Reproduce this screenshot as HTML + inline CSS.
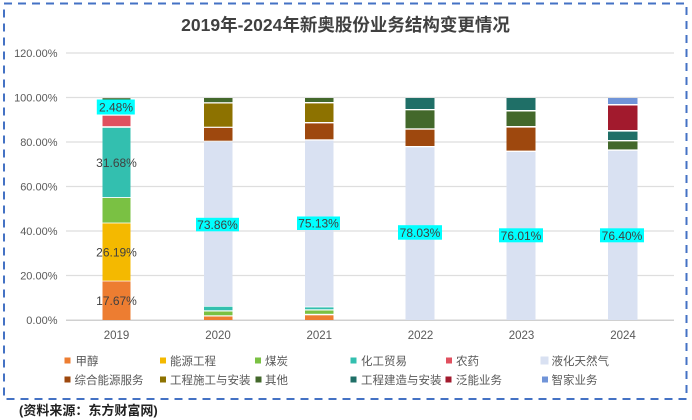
<!DOCTYPE html>
<html>
<head>
<meta charset="utf-8">
<style>
html,body{margin:0;padding:0;background:#fff;}
svg{display:block;}
text{font-family:"Liberation Sans","Noto Sans CJK SC",sans-serif;}
</style>
</head>
<body>
<svg width="692" height="420" viewBox="0 0 692 420" xmlns="http://www.w3.org/2000/svg">
<rect x="0" y="0" width="692" height="420" fill="#fff"/>
<!-- dashed border -->
<rect x="4" y="3.5" width="682.5" height="395.5" fill="none" stroke="#4472C4" stroke-width="2" stroke-dasharray="8,6"/>

<!-- title -->
<text x="345.5" y="31" text-anchor="middle" font-size="17.5" font-weight="bold" fill="#404040">2019年-2024年新奥股份业务结构变更情况</text>

<!-- gridlines -->
<g stroke="#DEDEDE" stroke-width="1.3">
<line x1="66" y1="53" x2="674" y2="53"/>
<line x1="66" y1="97.5" x2="674" y2="97.5"/>
<line x1="66" y1="142" x2="674" y2="142"/>
<line x1="66" y1="186.5" x2="674" y2="186.5"/>
<line x1="66" y1="231" x2="674" y2="231"/>
<line x1="66" y1="275.5" x2="674" y2="275.5"/>
</g>
<line x1="66" y1="320.3" x2="674" y2="320.3" stroke="#D0D0D0" stroke-width="1.5"/>

<!-- y labels -->
<g font-size="11" fill="#595959" text-anchor="end">
<text x="57.5" y="57">120.00%</text>
<text x="57.5" y="101.5">100.00%</text>
<text x="57.5" y="146">80.00%</text>
<text x="57.5" y="190.5">60.00%</text>
<text x="57.5" y="235">40.00%</text>
<text x="57.5" y="279.5">20.00%</text>
<text x="57.5" y="324">0.00%</text>
</g>

<!-- bars -->
<g stroke="none">
<!-- 2019 -->
<rect x="102.5" y="98.2" width="28" height="1.6" fill="#43682B"/>
<rect x="102.5" y="100" width="28" height="14.5" fill="#D9E1F2"/>
<rect x="102.5" y="115.7" width="28" height="10.5" fill="#E0505F"/>
<rect x="102.5" y="127.8" width="28" height="69.3" fill="#33BFAF"/>
<rect x="102.5" y="198" width="28" height="24.6" fill="#7AC143"/>
<rect x="102.5" y="223.4" width="28" height="57.3" fill="#F4B900"/>
<rect x="102.5" y="281.4" width="28" height="38.6" fill="#ED7D31"/>
<!-- 2020 -->
<rect x="204" y="98" width="28.5" height="4.2" fill="#43682B"/>
<rect x="204" y="103.5" width="28.5" height="23.2" fill="#8D7200"/>
<rect x="204" y="127.9" width="28.5" height="12.8" fill="#9E480E"/>
<rect x="204" y="142" width="28.5" height="164" fill="#D9E1F2"/>
<rect x="204" y="306.7" width="28.5" height="3.6" fill="#33BFAF"/>
<rect x="204" y="311.5" width="28.5" height="3.8" fill="#7AC143"/>
<rect x="204" y="316.5" width="28.5" height="3.5" fill="#ED7D31"/>
<!-- 2021 -->
<rect x="305" y="98" width="28.5" height="4" fill="#43682B"/>
<rect x="305" y="103.4" width="28.5" height="18.6" fill="#8D7200"/>
<rect x="305" y="123.4" width="28.5" height="15.9" fill="#9E480E"/>
<rect x="305" y="140.6" width="28.5" height="166" fill="#D9E1F2"/>
<rect x="305" y="307.4" width="28.5" height="1.9" fill="#33BFAF"/>
<rect x="305" y="310.5" width="28.5" height="3.3" fill="#7AC143"/>
<rect x="305" y="315.3" width="28.5" height="4.7" fill="#ED7D31"/>
<!-- 2022 -->
<rect x="405.5" y="98" width="29" height="11" fill="#1F6F67"/>
<rect x="405.5" y="110.3" width="29" height="18" fill="#43682B"/>
<rect x="405.5" y="129.7" width="29" height="16.3" fill="#9E480E"/>
<rect x="405.5" y="147.3" width="29" height="172.7" fill="#D9E1F2"/>
<!-- 2023 -->
<rect x="506.5" y="98" width="29" height="12" fill="#1F6F67"/>
<rect x="506.5" y="111.5" width="29" height="14.5" fill="#43682B"/>
<rect x="506.5" y="127.6" width="29" height="23" fill="#9E480E"/>
<rect x="506.5" y="152" width="29" height="168" fill="#D9E1F2"/>
<!-- 2024 -->
<rect x="608" y="98" width="29.5" height="6" fill="#7094D8"/>
<rect x="608" y="105.5" width="29.5" height="24.5" fill="#A21A2D"/>
<rect x="608" y="131.6" width="29.5" height="8.4" fill="#1F6F67"/>
<rect x="608" y="141.4" width="29.5" height="8" fill="#43682B"/>
<rect x="608" y="150.8" width="29.5" height="169.2" fill="#D9E1F2"/>
</g>

<!-- data labels -->
<g font-size="12" fill="#404040" text-anchor="middle">
<rect x="96.8" y="99.5" width="38" height="15" fill="#00FFFF"/>
<text x="116" y="111.3">2.48%</text>
<text x="116.5" y="167">31.68%</text>
<text x="116.5" y="256.5">26.19%</text>
<text x="116.5" y="305">17.67%</text>

<rect x="196" y="217.8" width="43" height="13.5" fill="#00FFFF"/>
<text x="217.5" y="228.8">73.86%</text>
<rect x="297" y="216.5" width="43" height="13.5" fill="#00FFFF"/>
<text x="318.5" y="227.5">75.13%</text>
<rect x="398" y="225.2" width="44" height="14.5" fill="#00FFFF"/>
<text x="420" y="236.8">78.03%</text>
<rect x="499" y="228.3" width="44" height="14" fill="#00FFFF"/>
<text x="521" y="239.8">76.01%</text>
<rect x="600" y="228.3" width="44" height="14" fill="#00FFFF"/>
<text x="622" y="239.8">76.40%</text>
</g>

<!-- x labels -->
<g font-size="11.5" fill="#595959" text-anchor="middle">
<text x="116.5" y="339">2019</text>
<text x="218" y="339">2020</text>
<text x="319.3" y="339">2021</text>
<text x="420.5" y="339">2022</text>
<text x="521.5" y="339">2023</text>
<text x="623" y="339">2024</text>
</g>

<!-- legend -->
<g font-size="11.5" fill="#595959">
<rect x="64.5" y="357.5" width="6" height="6" fill="#ED7D31"/><text x="75.5" y="364.8">甲醇</text>
<rect x="160" y="357.5" width="6" height="6" fill="#F4B900"/><text x="170" y="364.8">能源工程</text>
<rect x="255" y="357.5" width="6" height="6" fill="#7AC143"/><text x="265" y="364.8">煤炭</text>
<rect x="350.5" y="357.5" width="6" height="6" fill="#33BFAF"/><text x="361" y="364.8">化工贸易</text>
<rect x="446" y="357.5" width="6" height="6" fill="#E0505F"/><text x="456" y="364.8">农药</text>
<rect x="540.5" y="356.5" width="8" height="8" fill="#D9E1F2"/><text x="551.5" y="364.8">液化天然气</text>

<rect x="64.5" y="376.5" width="6" height="6" fill="#9E480E"/><text x="74.5" y="383.8">综合能源服务</text>
<rect x="160" y="376.5" width="6" height="6" fill="#8D7200"/><text x="170" y="383.8">工程施工与安装</text>
<rect x="255.5" y="376.5" width="6" height="6" fill="#43682B"/><text x="265" y="383.8">其他</text>
<rect x="350.5" y="376.5" width="6" height="6" fill="#1F6F67"/><text x="361" y="383.8">工程建造与安装</text>
<rect x="445.5" y="376.5" width="6" height="6" fill="#A21A2D"/><text x="456" y="383.8">泛能业务</text>
<rect x="542" y="376.5" width="6" height="6" fill="#7094D8"/><text x="551.5" y="383.8">智家业务</text>
</g>

<!-- source -->
<text x="19" y="415" font-size="13" font-weight="bold" fill="#222">(资料来源：东方财富网)</text>
</svg>
</body>
</html>
